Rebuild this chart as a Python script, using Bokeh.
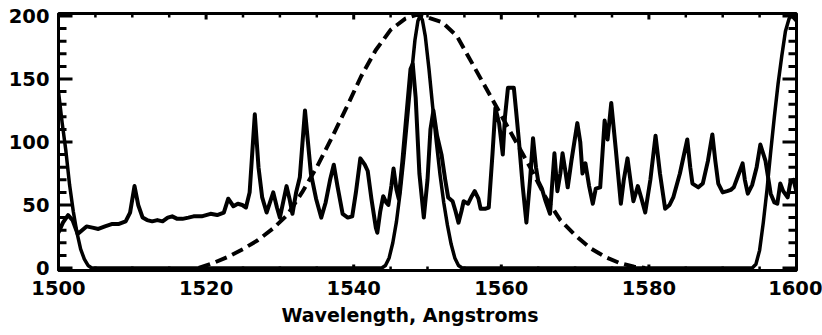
from bokeh.plotting import figure
from bokeh.models import Range1d, SingleIntervalTicker, Title
from bokeh.embed import file_html
from bokeh.resources import INLINE

# Observed spectrum (wavelength in Angstroms, counts)
spec_x = [1500.0, 1500.6, 1501.3, 1501.9, 1502.6, 1503.2, 1503.8, 1504.6, 1505.4, 1506.3,
          1507.3, 1508.2, 1509.1, 1509.7, 1510.3, 1510.8, 1511.4, 1512.0, 1512.7, 1513.4,
          1514.1, 1514.8, 1515.4, 1516.1, 1516.8, 1517.6, 1518.3, 1519.4, 1520.6, 1521.5,
          1522.4, 1523.0, 1523.7, 1524.3, 1524.9, 1525.4, 1525.9, 1526.6, 1527.1, 1527.6,
          1528.2, 1529.1, 1529.6, 1530.0, 1530.9, 1531.3, 1531.7, 1532.2, 1532.7, 1533.0,
          1533.4, 1533.8, 1534.2, 1534.9, 1535.6, 1536.2, 1536.8, 1537.3, 1537.8, 1538.5,
          1539.2, 1539.8, 1540.3, 1540.9, 1541.5, 1541.9, 1542.4, 1543.0, 1543.2, 1543.6,
          1544.0, 1544.4, 1544.7, 1545.1, 1545.4, 1545.8, 1546.1, 1546.6, 1547.2, 1547.7,
          1548.0, 1548.4, 1548.9, 1549.5, 1550.0, 1550.4, 1550.8, 1551.3, 1551.9, 1552.4,
          1552.8, 1553.4, 1553.8, 1554.2, 1554.6, 1554.9, 1555.5, 1556.0, 1556.4, 1556.9,
          1557.2, 1557.8, 1558.3, 1558.8, 1559.2, 1559.7, 1560.2, 1560.5, 1560.9, 1561.7,
          1562.0, 1562.4, 1562.9, 1563.4, 1563.9, 1564.3, 1564.7, 1565.0, 1565.5, 1566.0,
          1566.6, 1567.2, 1567.6, 1568.0, 1568.3, 1568.6, 1569.0, 1569.5, 1570.3, 1570.7,
          1571.0, 1571.4, 1571.9, 1572.4, 1572.8, 1573.4, 1573.7, 1574.0, 1574.4, 1574.9,
          1575.5, 1576.2, 1576.6, 1577.1, 1577.6, 1577.9, 1578.5, 1579.0, 1579.5, 1580.2,
          1580.9, 1581.5, 1582.2, 1582.8, 1583.3, 1584.2, 1585.2, 1585.6, 1585.9, 1586.7,
          1587.3, 1588.0, 1588.6, 1589.0, 1589.4, 1590.0, 1590.6, 1591.1, 1591.5, 1592.2,
          1592.7, 1593.0, 1593.4, 1594.0, 1594.6, 1595.1, 1595.8, 1596.5, 1597.0, 1597.4,
          1597.8, 1598.2, 1598.8, 1599.2, 1599.6, 1600.0]
spec_y = [28, 36, 42, 38, 27, 30, 33, 32, 31, 33,
          35, 35, 37, 44, 65, 50, 40, 38, 37, 38,
          37, 40, 41, 39, 39, 40, 41, 41, 43, 42,
          44, 55, 49, 51, 50, 48, 60, 122, 80, 56,
          44, 60, 48, 40, 65, 55, 43, 60, 72, 95,
          125, 100, 75, 55, 40, 52, 70, 82, 65, 43,
          40, 41, 60, 87, 82, 77, 55, 32, 28, 45,
          57, 52, 50, 65, 79, 62, 55, 85, 125, 158,
          162, 135, 75, 40, 70, 110, 125, 105, 90, 70,
          56, 53, 45, 36, 45, 53, 51, 57, 61, 55,
          47, 47, 48, 90, 127, 115, 90, 120, 143, 143,
          125, 100, 65, 36, 70, 103, 80, 69, 63, 53,
          43, 91, 61, 75, 91, 80, 64, 85, 115, 100,
          75, 83, 65, 51, 63, 64, 90, 117, 102, 131,
          95, 51, 70, 87, 65, 53, 65, 55, 44, 70,
          105, 75, 47, 50, 56, 75, 102, 80, 67, 64,
          67, 85, 106, 85, 67, 60, 61, 62, 64, 75,
          83, 70, 59, 66, 80, 98, 85, 59, 52, 51,
          67, 61, 56, 69, 70, 60]

# Etalon transmission orders (solid)
airy_x = [1500.0, 1500.5, 1501.0, 1501.5, 1502.0, 1502.5, 1503.0, 1503.5, 1504.0, 1504.5,
          1543.8, 1544.3, 1544.8, 1545.3, 1545.8, 1546.3, 1546.8, 1547.3, 1547.8, 1548.3,
          1548.7, 1549.0, 1549.3, 1549.7, 1550.2, 1550.7, 1551.2, 1551.7, 1552.2, 1552.7,
          1553.2, 1553.7, 1554.2, 1554.7,
          1594.0, 1594.5, 1595.0, 1595.5, 1596.0, 1596.5, 1597.0, 1597.5, 1598.0, 1598.5,
          1599.0, 1599.4, 1600.0]
airy_y = [140, 115, 93, 66, 45, 28, 15, 7, 2, 0,
          0, 2, 8, 20, 37, 60, 88, 120, 152, 181,
          196, 200, 197, 184, 158, 128, 100, 74, 52, 34,
          19, 8, 2, 0,
          0, 3, 14, 36, 62, 92, 120, 146, 168, 188,
          198, 200, 196]

# Broad prefilter passband (dashed)
filt_x = [1519, 1521, 1523, 1525, 1527, 1529, 1531, 1533, 1535, 1537,
          1539, 1541, 1543, 1545, 1547, 1548.5, 1550, 1552, 1554, 1556,
          1558, 1560, 1562, 1564, 1566, 1568, 1570, 1572, 1574, 1576,
          1578, 1579.5]
filt_y = [0, 4, 9, 15, 22, 31, 42, 60, 80, 103,
          127, 152, 173, 189, 198, 201, 199, 195, 184, 163,
          142, 121, 100, 79, 56, 38, 26, 16, 9, 4,
          1, 0]

# Tick positions
x_major = [1500, 1520, 1540, 1560, 1580, 1600]
x_minor = [1505, 1510, 1515, 1525, 1530, 1535, 1545, 1550, 1555,
           1565, 1570, 1575, 1585, 1590, 1595]
y_major = [0, 50, 100, 150, 200]
y_minor = [10, 20, 30, 40, 60, 70, 80, 90, 110, 120, 130, 140, 160, 170, 180, 190]

X0, X1 = 1500, 1600
Y0, Y1 = -2, 202
FONT = "DejaVu Sans"

W, H = 822, 335
BL, BR, BT, BB = 58, 26, 13, 65
FW, FH = W - BL - BR, H - BT - BB          # frame size in pixels
DX, DY = (X1 - X0) / FW, (Y1 - Y0) / FH    # data units per pixel

p = figure(width=W, height=H,
           x_range=Range1d(X0, X1), y_range=Range1d(Y0, Y1),
           output_backend="svg", toolbar_location=None,
           min_border_left=BL, min_border_right=BR,
           min_border_top=BT, min_border_bottom=BB,
           background_fill_color="white", border_fill_color="white")

p.xgrid.visible = False
p.ygrid.visible = False
p.outline_line_color = "black"
p.outline_line_width = 3

p.line(filt_x, filt_y, line_color="black", line_width=4, line_dash="12 6")
p.line(airy_x, airy_y, line_color="black", line_width=3.5, line_join="round")
p.line(spec_x, spec_y, line_color="black", line_width=4, line_join="round")

# Inward-pointing ticks on all four sides of the frame
def ticks_y(ys, length_px, width):
    n = len(ys)
    p.segment(x0=[X0] * n, y0=ys, x1=[X0 + length_px * DX] * n, y1=ys,
              line_color="black", line_width=width)
    p.segment(x0=[X1] * n, y0=ys, x1=[X1 - length_px * DX] * n, y1=ys,
              line_color="black", line_width=width)

def ticks_x(xs, length_px, width):
    n = len(xs)
    p.segment(x0=xs, y0=[Y0] * n, x1=xs, y1=[Y0 + length_px * DY] * n,
              line_color="black", line_width=width)
    p.segment(x0=xs, y0=[Y1] * n, x1=xs, y1=[Y1 - length_px * DY] * n,
              line_color="black", line_width=width)

ticks_y(y_major, 14, 3)
ticks_y(y_minor, 8, 3)
ticks_x(x_major, 6, 3)
ticks_x(x_minor, 4, 2.5)

def style(ax):
    ax.axis_line_color = "black"
    ax.axis_line_width = 3
    ax.major_tick_in = 0
    ax.major_tick_out = 0
    ax.minor_tick_in = 0
    ax.minor_tick_out = 0
    ax.major_label_text_font = FONT
    ax.major_label_text_font_style = "bold"
    ax.major_label_text_font_size = "19.5px"
    ax.major_label_text_color = "black"

xb = p.xaxis[0]
xb.ticker = SingleIntervalTicker(interval=20)
style(xb)
xb.major_label_standoff = 10

yl = p.yaxis[0]
yl.ticker = SingleIntervalTicker(interval=50)
style(yl)
yl.major_label_standoff = 9
yl.major_label_orientation = "horizontal"

p.add_layout(Title(text="Wavelength, Angstroms", align="left", offset=223,
                   text_font=FONT, text_font_style="bold", text_font_size="19px",
                   text_color="black", standoff=8), "below")

open("out.html", "w").write(file_html(p, INLINE))
